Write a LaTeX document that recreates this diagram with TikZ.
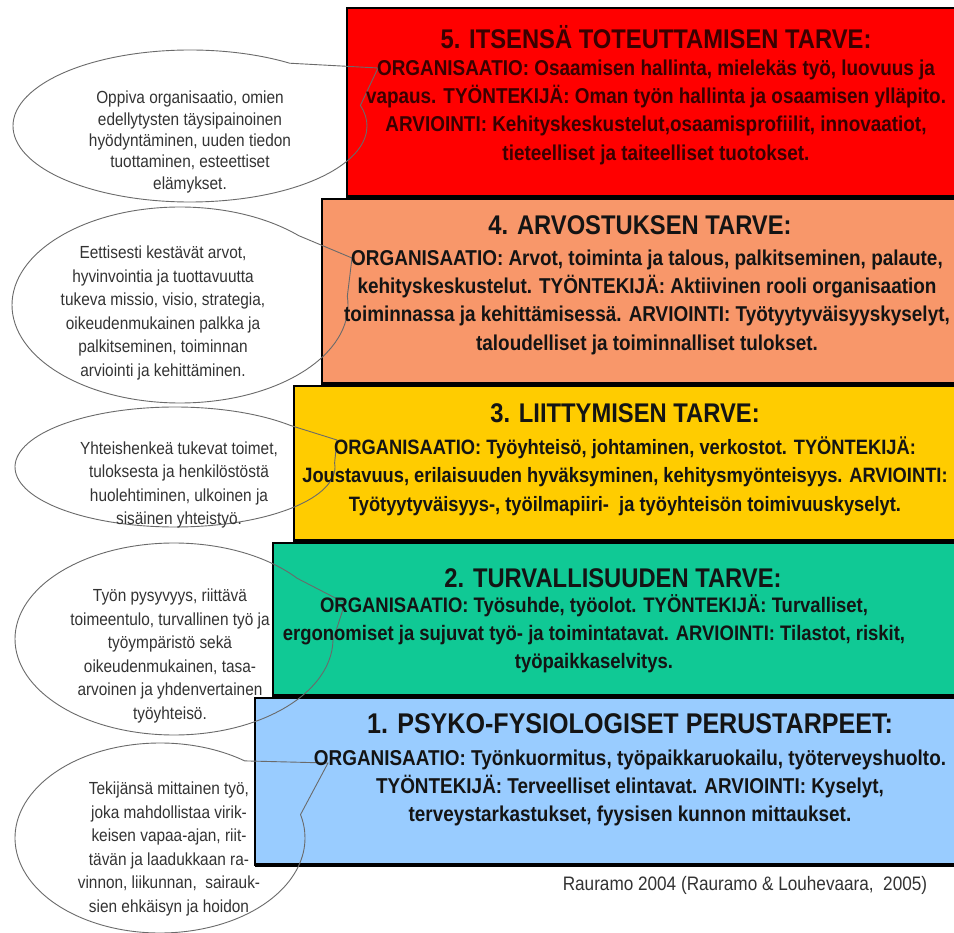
\documentclass[tikz,border=0pt]{standalone}
\usepackage{fontspec}
\setmainfont{Liberation Sans}[FakeStretch=0.88]
\usetikzlibrary{shapes.callouts}
\definecolor{lvlred}{HTML}{FF0000}
\definecolor{lvlorange}{HTML}{F8976A}
\definecolor{lvlyellow}{HTML}{FFCC00}
\definecolor{lvlgreen}{HTML}{10C995}
\definecolor{lvlblue}{HTML}{99CCFF}
\definecolor{bubbleline}{HTML}{6A6A6A}
\definecolor{bubbletext}{HTML}{333333}
\definecolor{redtext}{HTML}{3A0000}
\definecolor{boxtext}{HTML}{141414}
\begin{document}
\begin{tikzpicture}[x=1pt,y=-1pt,
  levelbox/.style={draw=black,line width=2.2pt},
  shadowline/.style={black,line width=3.5pt},
  titletext/.style={font=\bfseries\fontsize{27}{30}\selectfont,align=center,inner sep=0pt},
  bodytext/.style={font=\bfseries\fontsize{21.5}{28.3}\selectfont,align=center,inner sep=0pt},
  bubble/.style={ellipse callout,draw=bubbleline,line width=0.9pt,inner sep=0pt,callout pointer arc=40},
  bubbletxt/.style={font=\fontsize{17.5}{23.5}\selectfont,align=center,inner sep=0pt,text=bubbletext},
  credittext/.style={font=\fontsize{19.5}{22}\selectfont,inner sep=0pt,text=bubbletext}]
\useasboundingbox (0,0) rectangle (954,933);
\fill[white] (0,0) rectangle (954,933);
\begin{scope}
\clip (0,0) rectangle (954,933);
% level boxes
\filldraw[levelbox,fill=lvlred] (347,8) rectangle (975,197);
\draw[shadowline] (347,197) -- (975,197);
\filldraw[levelbox,fill=lvlorange] (322,199) rectangle (975,384);
\draw[shadowline] (322,384) -- (975,384);
\filldraw[levelbox,fill=lvlyellow] (294,386) rectangle (975,541);
\draw[shadowline] (294,541) -- (975,541);
\filldraw[levelbox,fill=lvlgreen] (273,543) rectangle (975,696);
\draw[shadowline] (273,696) -- (975,696);
\filldraw[levelbox,fill=lvlblue] (255,698) rectangle (975,865);
\draw[shadowline] (255,865) -- (975,865);
% callout pointers
\coordinate (p1) at (378,68);
\coordinate (p2) at (352,258);
\coordinate (p3) at (337,440);
\coordinate (p4) at (345,603);
\coordinate (p5) at (328,763);
% callouts
\node[bubble,minimum width=354pt,minimum height=152pt,callout absolute pointer={(p1)}] (e1) at (190,126) {};
\node[bubble,minimum width=336pt,minimum height=196pt,callout absolute pointer={(p2)}] (e2) at (180,305) {};
\node[bubble,minimum width=320pt,minimum height=120pt,callout absolute pointer={(p3)}] (e3) at (175,467) {};
\node[bubble,minimum width=318pt,minimum height=192pt,callout absolute pointer={(p4)}] (e4) at (174,639) {};
\node[bubble,minimum width=290pt,minimum height=190pt,callout absolute pointer={(p5)}] (e5) at (160,838) {};
\end{scope}
% bubble texts
\node[bubbletxt,font=\fontsize{17.5}{21.3}\selectfont] (t1) at (190,142) {Oppiva organisaatio, omien\\edellytysten täysipainoinen\\hyödyntäminen, uuden tiedon\\tuottaminen, esteettiset\\elämykset.};
\node[bubbletxt] (t2) at (163,313) {Eettisesti kestävät arvot,\\hyvinvointia ja tuottavuutta\\tukeva missio, visio, strategia,\\oikeudenmukainen palkka ja\\palkitseminen, toiminnan\\arviointi ja kehittäminen.};
\node[bubbletxt] (t3) at (179,485) {Yhteishenkeä tukevat toimet,\\tuloksesta ja henkilöstöstä\\huolehtiminen, ulkoinen ja\\sisäinen yhteistyö.};
\node[bubbletxt] (t4) at (170,656) {Työn pysyvyys, riittävä\\toimeentulo, turvallinen työ ja\\työympäristö sekä\\oikeudenmukainen, tasa-\\arvoinen ja yhdenvertainen\\työyhteisö.};
\node[bubbletxt] (t5) at (169,849) {Tekijänsä mittainen työ,\\joka mahdollistaa virik-\\keisen vapaa-ajan, riit-\\tävän ja laadukkaan ra-\\vinnon, liikunnan,\ \ sairauk-\\sien ehkäisyn ja hoidon};
% box texts
\node[titletext,text=redtext] (h5) at (656,37) {5. ITSENSÄ TOTEUTTAMISEN TARVE:};
\node[bodytext,text=redtext] (b5) at (656,112) {ORGANISAATIO: Osaamisen hallinta, mielekäs työ, luovuus ja\\vapaus. TYÖNTEKIJÄ: Oman työn hallinta ja osaamisen ylläpito.\\ARVIOINTI: Kehityskeskustelut,osaamisprofiilit, innovaatiot,\\tieteelliset ja taiteelliset tuotokset.};
\node[titletext,text=boxtext] (h4) at (640,225) {4. ARVOSTUKSEN TARVE:};
\node[bodytext,text=boxtext] (b4) at (647,302) {ORGANISAATIO: Arvot, toiminta ja talous, palkitseminen, palaute,\\kehityskeskustelut. TYÖNTEKIJÄ: Aktiivinen rooli organisaation\\toiminnassa ja kehittämisessä. ARVIOINTI: Työtyytyväisyyskyselyt,\\taloudelliset ja toiminnalliset tulokset.};
\node[titletext,text=boxtext] (h3) at (625,413) {3. LIITTYMISEN TARVE:};
\node[bodytext,text=boxtext,font=\bfseries\fontsize{20.8}{28.3}\selectfont] (b3) at (625,476) {ORGANISAATIO: Työyhteisö, johtaminen, verkostot. TYÖNTEKIJÄ:\\Joustavuus, erilaisuuden hyväksyminen, kehitysmyönteisyys. ARVIOINTI:\\Työtyytyväisyys-, työilmapiiri-\ \ ja työyhteisön toimivuuskyselyt.};
\node[titletext,text=boxtext] (h2) at (613,578) {2. TURVALLISUUDEN TARVE:};
\node[bodytext,text=boxtext,font=\bfseries\fontsize{21}{28}\selectfont] (b2) at (594,634) {ORGANISAATIO: Työsuhde, työolot. TYÖNTEKIJÄ: Turvalliset,\\ergonomiset ja sujuvat työ- ja toimintatavat. ARVIOINTI: Tilastot, riskit,\\työpaikkaselvitys.};
\node[titletext,text=boxtext,font=\bfseries\fontsize{28.5}{30}\selectfont] (h1) at (630,724) {1. PSYKO-FYSIOLOGISET PERUSTARPEET:};
\node[bodytext,text=boxtext] (b1) at (630,788) {ORGANISAATIO: Työnkuormitus, työpaikkaruokailu, työterveyshuolto.\\TYÖNTEKIJÄ: Terveelliset elintavat. ARVIOINTI: Kyselyt,\\terveystarkastukset, fyysisen kunnon mittaukset.};
\node[credittext] (credit) at (745,885) {Rauramo 2004 (Rauramo \& Louhevaara,\ \ 2005)};
\end{tikzpicture}
\end{document}
